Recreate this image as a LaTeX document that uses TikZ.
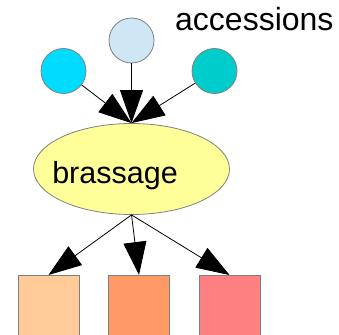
\documentclass[tikz,border=0pt]{standalone}
\usepackage{fontspec}
\setmainfont{Liberation Sans}
\usepackage{tikz}
\usetikzlibrary{arrows.meta}
\usetikzlibrary{shapes.geometric}
\usetikzlibrary{positioning}
\definecolor{bordgris}{HTML}{808080}
\definecolor{cyanvif}{HTML}{00DCFF}
\definecolor{bleupale}{HTML}{CFE7F5}
\definecolor{turquoise}{HTML}{00CCCC}
\definecolor{jaunepale}{HTML}{FFFF99}
\definecolor{peche}{HTML}{FFCC99}
\definecolor{orangeclair}{HTML}{FF9966}
\definecolor{rosesaumon}{HTML}{FF8080}
\tikzset{
  >=latex,
  fleche/.style={draw, line width=0.8pt, -{Triangle[length=33pt, width=23pt]}}
}

\begin{document}
\begin{tikzpicture}[x=1pt, y=-1pt, font=\fontsize{32}{38}\selectfont]
    % Define styles
    \tikzstyle{accession} = [circle, draw=bordgris, line width=0.8pt, minimum size=45pt, inner sep=0pt]
    \tikzstyle{bulle} = [ellipse, draw=bordgris, line width=0.8pt, fill=jaunepale, minimum width=196pt, minimum height=91pt, inner sep=0pt]
    \tikzstyle{lot} = [rectangle, draw=bordgris, line width=0.8pt, minimum width=61pt, minimum height=64pt, anchor=north, inner sep=0pt]

    \useasboundingbox (0,0) rectangle (339,334);

    % Place nodes - accessions
    \node [accession, fill=cyanvif] (acc1) at (63.5,71) {};
    \node [accession, fill=bleupale] (acc2) at (131.5,40.5) {};
    \node [accession, fill=turquoise] (acc3) at (214.5,71) {};
    \node [anchor=base west, inner sep=0pt] (accessions) at (175,31) {accessions};

    % Place nodes - brassage
    \node [bulle] (brassage) at (131.5,169) {};
    \node [anchor=base, inner sep=0pt, font=\fontsize{30.5}{36}\selectfont] (txtbrassage) at ([xshift=-16.5pt, yshift=-14pt]brassage.center) {brassage};

    % Place nodes - lots
    \node [lot, fill=peche] (lot1) at (48.5,275) {};
    \node [lot, fill=orangeclair] (lot2) at (139,275) {};
    \node [lot, fill=rosesaumon] (lot3) at (229.5,275) {};

    % Draw edges
    \path [fleche] (acc1) -- (brassage.north);
    \path [fleche] (acc3) -- (brassage.north);
    \path [fleche] (acc2) -- (brassage.north);

    \path [fleche] (brassage.south) -- (lot1.north);
    \path [fleche] (brassage.south) -- (lot2.north);
    \path [fleche] (brassage.south) -- (lot3.north);
\end{tikzpicture}
\end{document}
